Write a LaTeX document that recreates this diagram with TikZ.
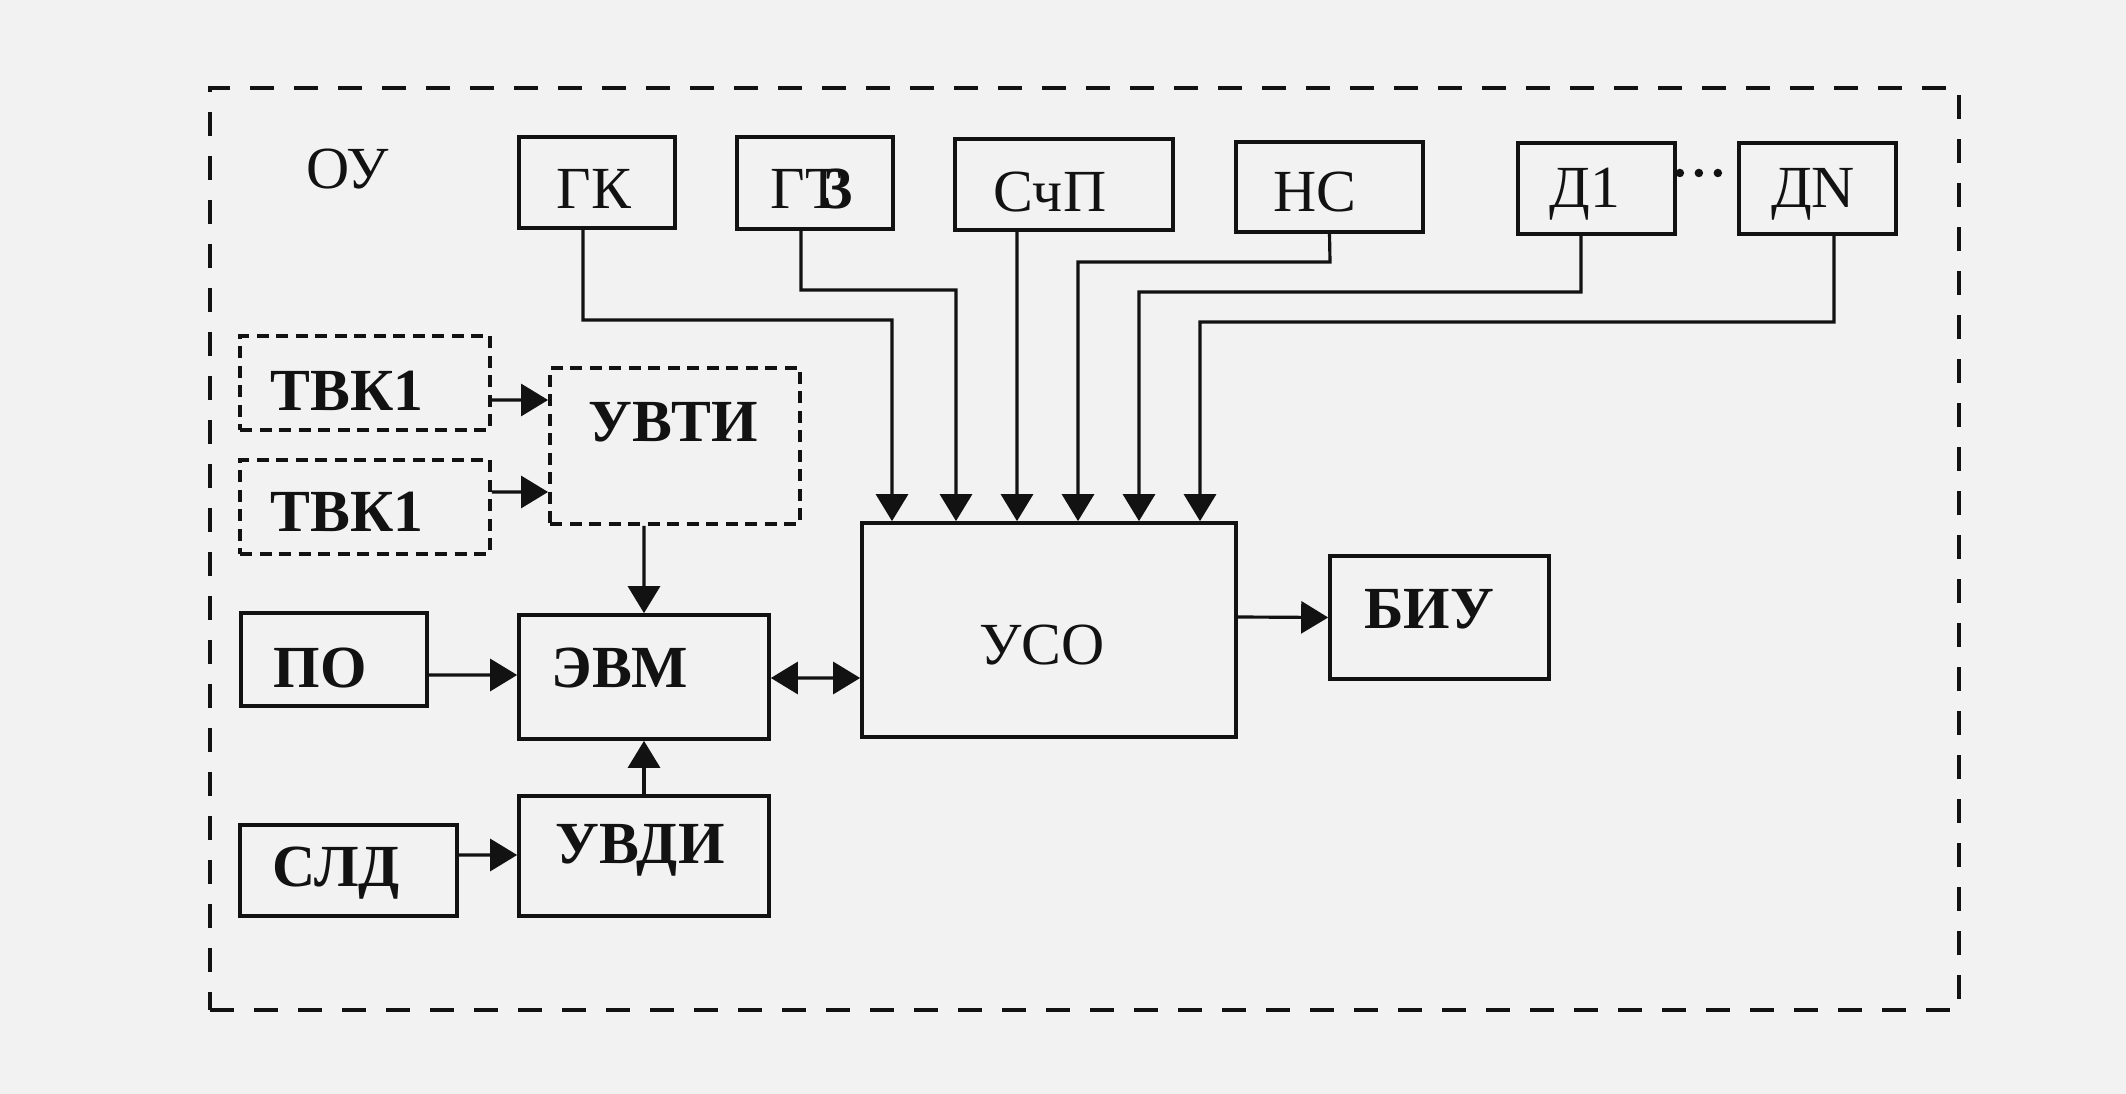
\documentclass[tikz,border=0pt]{standalone}
\usepackage{fontspec}
\setmainfont{Liberation Serif}
\usetikzlibrary{arrows.meta,fit}
\definecolor{bgc}{RGB}{242,242,242}
\definecolor{ink}{RGB}{18,18,18}
\begin{document}
\begin{tikzpicture}[x=0.1mm,y=-0.1mm,
  blk/.style={draw=ink, line width=1.05pt, inner sep=0pt},
  dblk/.style={draw=ink, line width=1.1pt, dash pattern=on 1.2mm off 0.75mm, inner sep=0pt},
  txt/.style={font=\fontsize{17}{20}\selectfont, text=ink, inner sep=0pt},
  btxt/.style={font=\fontsize{17}{20}\selectfont\bfseries, text=ink, inner sep=0pt},
  conn/.style={draw=ink, line width=0.9pt},
  arr/.style={conn, -{Triangle[length=2.7mm,width=3.2mm]}},
  darr/.style={conn, {Triangle[length=2.7mm,width=3.2mm]}-{Triangle[length=2.7mm,width=3.2mm]}},
]
\fill[bgc] (0,0) rectangle (2126,1094);
\useasboundingbox (0,0) rectangle (2126,1094);

% outer dashed frame
\node[draw=ink, line width=1.3pt, dash pattern=on 2.4mm off 2mm, inner sep=0pt,
      fit={(210,88) (1959,1010)}] (frame) {};
\node[txt] (ou) at (348,169) {ОУ};

% top row
\node[blk, fit={(519,137) (675,228)}] (gk) {};
\node[txt] (gkt) at (594,189) {ГК};
\node[blk, fit={(737,137) (893,229)}] (gb) {};
\node[txt] (gbt) at (812,189) {Г\rlap{Т}\hspace{0.3em}\textbf{3}};
\node[blk, fit={(955,139) (1173,230)}] (scp) {};
\node[txt] (scpt) at (1050,192) {СчП};
\node[blk, fit={(1236,142) (1423,232)}] (ns) {};
\node[txt] (nst) at (1315,192) {НС};
\node[blk, fit={(1518,143) (1675,234)}] (d1) {};
\node[txt] (d1t) at (1585,194) {Д1};
\node[blk, fit={(1739,143) (1896,234)}] (dn) {};
\node[txt] (dnt) at (1813,194) {ДN};
\draw[draw=ink, line width=0.85mm, line cap=round, dash pattern=on 0pt off 1.9mm]
  ([xshift=0.3mm,yshift=1.55mm]d1.east) -- ([xshift=-0.3mm,yshift=1.55mm]dn.west);

% left column
\node[dblk, fit={(240,336) (490,430)}] (tvka) {};
\node[btxt] (tvkat) at (347,391) {ТВК1};
\node[dblk, fit={(240,460) (490,554)}] (tvkb) {};
\node[btxt] (tvkbt) at (347,512) {ТВК1};
\node[dblk, fit={(550,368) (800,524)}] (uvti) {};
\node[btxt] (uvtit) at (673,422) {УВТИ};
\node[blk, fit={(241,613) (427,706)}] (po) {};
\node[btxt] (pot) at (320,668) {ПО};
\node[blk, fit={(519,615) (769,739)}] (evm) {};
\node[btxt] (evmt) at (620,668) {ЭВМ};
\node[blk, fit={(519,796) (769,916)}] (uvdi) {};
\node[btxt] (uvdit) at (640,850) {УВДИ};
\node[blk, fit={(240,825) (457,916)}] (sld) {};
\node[btxt] (sldt) at (336,873) {СЛД};

% centre and right
\node[blk, fit={(862,523) (1236,737)}] (uso) {};
\node[txt] (usot) at (1042,645) {УСО};
\node[blk, fit={(1330,556) (1549,679)}] (biu) {};
\node[btxt] (biut) at (1429,609) {БИУ};

% connectors from the top row into УСО
\draw[arr] ([xshift=-1.4mm]gk.south) -- (583,320) -- (892,320) -- ([xshift=-15.7mm]uso.north);
\draw[arr] ([xshift=-1.4mm]gb.south) -- (801,290) -- (956,290) -- ([xshift=-9.3mm]uso.north);
\draw[arr] ([xshift=-4.7mm]scp.south) -- ([xshift=-3.2mm]uso.north);
\draw[arr] (ns.south) -- (1330,262) -- (1078,262) -- ([xshift=2.9mm]uso.north);
\draw[arr] ([xshift=-1.55mm]d1.south) -- (1581,292) -- (1139,292) -- ([xshift=9.0mm]uso.north);
\draw[arr] ([xshift=1.65mm]dn.south) -- (1834,322) -- (1200,322) -- ([xshift=15.1mm]uso.north);

% left side connectors
\draw[arr] ([yshift=-1.7mm]tvka.east) -- ([yshift=4.6mm]uvti.west);
\draw[arr] ([yshift=1.5mm]tvkb.east) -- ([yshift=-4.6mm]uvti.west);
\draw[arr] ([xshift=-3.1mm]uvti.south) -- (evm.north);
\draw[arr] ([yshift=-1.55mm]po.east) -- ([yshift=0.2mm]evm.west);
\draw[arr] (uvdi.north) -- (evm.south);
\draw[arr] ([yshift=1.55mm]sld.east) -- ([yshift=0.1mm]uvdi.west);
\draw[darr] ([yshift=-0.1mm]evm.east) -- ([yshift=-4.8mm]uso.west);
\draw[arr] ([yshift=1.3mm]uso.east) -- (biu.west);
\end{tikzpicture}
\end{document}
